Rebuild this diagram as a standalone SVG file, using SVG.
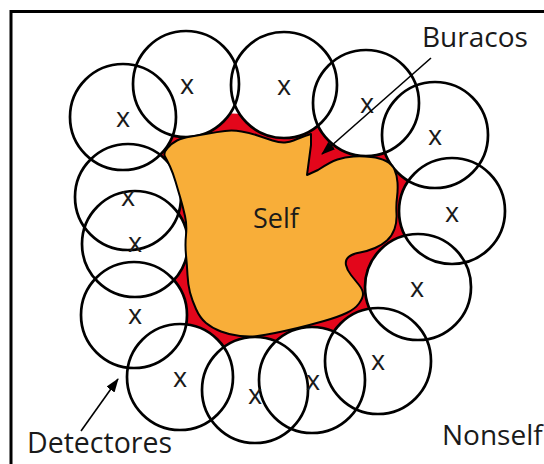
<svg xmlns="http://www.w3.org/2000/svg" width="544" height="464" viewBox="0 0 544 464">
<defs>
<style>
.frame{fill:none;stroke:#000;stroke-width:3}
.cf{fill:#fff;stroke:none}
.cs{fill:none;stroke:#000;stroke-width:2.7}
.lbl{font-family:"Open Sans","Liberation Sans",sans-serif;fill:#1a1a1a}
.x{font-family:"Open Sans","Liberation Sans",sans-serif;font-size:27px;fill:#1a1a1a;text-anchor:middle}
.arr{stroke:#000;stroke-width:1.6;fill:none}
</style>
<marker id="ah" viewBox="0 0 14 10" refX="13" refY="5" markerWidth="14" markerHeight="10" markerUnits="userSpaceOnUse" orient="auto">
<path d="M0,0 L14,5 L0,10 z" fill="#000"/>
</marker>
<path id="selfpath" d="M311,134 L311,145 Q309,160 308,167.5 L307,175 L318,170 Q330,162 337.5,159.5 Q345,157 353.5,156.5 Q362,156 371,157 Q380,158 386,161 Q392,164 394.5,169.5 Q397,175 397.5,182.5 Q398,190 397,197.5 Q396,205 396.5,213.5 Q397,222 394.5,229 Q392,236 387,240.5 Q382,245 375,248 Q368,251 360,252.5 Q352,254 348.5,257 Q345,260 346,265 Q347,270 351,275 Q355,280 359,285 Q363,290 363,294 Q363,298 359,303.5 Q355,309 346.5,313 Q338,317 324,321 Q310,325 297.5,328 Q285,331 275,333 Q265,335 257.5,336 Q250,337 240,336 Q230,335 221,331.5 Q212,328 206,323 Q200,318 196,309 Q192,300 190,292.5 Q188,285 187.5,275 Q187,265 186,255 Q185,245 186,235 Q187,225 185,216 Q183,207 180.5,198.5 Q178,190 175.5,181.5 Q173,173 170,166.5 Q167,160 165,156.5 Q163,153 167.5,148 Q172,143 177,140.5 Q182,138 191,136.5 Q200,135 208.5,133.5 Q217,132 225,131 Q233,130 241.5,131.5 Q250,133 257.5,135.5 Q265,138 272.5,140.5 Q280,143 285,142.5 Q290,142 293.5,140.5 Q297,139 301,137.5 Q305,136 311,134 Z"/>
</defs>
<rect width="544" height="464" fill="#fff"/>
<rect class="frame" x="11" y="11.5" width="560" height="480"/>
<g id="holes">
<use href="#selfpath" fill="#E3061B" stroke="#E3061B" stroke-width="34" stroke-linejoin="round"/>
</g>
<g id="detector-fills">
<circle class="cf" cx="123" cy="117" r="53"/>
<circle class="cf" cx="186" cy="84" r="53"/>
<circle class="cf" cx="284" cy="85" r="53"/>
<circle class="cf" cx="366" cy="103" r="53"/>
<circle class="cf" cx="435" cy="135" r="53"/>
<circle class="cf" cx="452" cy="211" r="53"/>
<circle class="cf" cx="418" cy="287" r="53"/>
<circle class="cf" cx="378" cy="361" r="53"/>
<circle class="cf" cx="312" cy="380" r="53"/>
<circle class="cf" cx="255" cy="390" r="53"/>
<circle class="cf" cx="180" cy="377" r="53"/>
<circle class="cf" cx="134" cy="315" r="53"/>
<circle class="cf" cx="135" cy="244" r="53"/>
<circle class="cf" cx="128" cy="197" r="53"/>
</g>
<g id="detectors">
<circle class="cs" cx="123" cy="117" r="53"/>
<circle class="cs" cx="186" cy="84" r="53"/>
<circle class="cs" cx="284" cy="85" r="53"/>
<circle class="cs" cx="366" cy="103" r="53"/>
<circle class="cs" cx="435" cy="135" r="53"/>
<circle class="cs" cx="452" cy="211" r="53"/>
<circle class="cs" cx="418" cy="287" r="53"/>
<circle class="cs" cx="378" cy="361" r="53"/>
<circle class="cs" cx="312" cy="380" r="53"/>
<circle class="cs" cx="255" cy="390" r="53"/>
<circle class="cs" cx="180" cy="377" r="53"/>
<circle class="cs" cx="134" cy="315" r="53"/>
<circle class="cs" cx="135" cy="244" r="53"/>
<circle class="cs" cx="128" cy="197" r="53"/>
<text class="x" x="123" y="127">x</text>
<text class="x" x="187" y="94">x</text>
<text class="x" x="284" y="95">x</text>
<text class="x" x="367" y="113">x</text>
<text class="x" x="435" y="145">x</text>
<text class="x" x="452" y="222">x</text>
<text class="x" x="417" y="297">x</text>
<text class="x" x="378" y="370">x</text>
<text class="x" x="313" y="390">x</text>
<text class="x" x="255" y="404">x</text>
<text class="x" x="180" y="387">x</text>
<text class="x" x="135" y="324">x</text>
<text class="x" x="135" y="252">x</text>
<text class="x" x="128" y="206">x</text>
</g>
<g id="self">
<use href="#selfpath" fill="#F8AE39" stroke="#000" stroke-width="2" stroke-linejoin="round"/>
<text class="lbl" x="253" y="228" font-size="27">Self</text>
</g>
<g id="connectors">
<line class="arr" x1="431" y1="58" x2="322" y2="154" marker-end="url(#ah)"/>
<line class="arr" x1="81" y1="431" x2="118" y2="379" marker-end="url(#ah)"/>
</g>
<g id="labels">
<text class="lbl" x="422" y="47" font-size="28">Buracos</text>
<text class="lbl" x="27" y="453" font-size="28.5">Detectores</text>
<text class="lbl" x="442" y="445" font-size="28">Nonself</text>
</g>
</svg>
